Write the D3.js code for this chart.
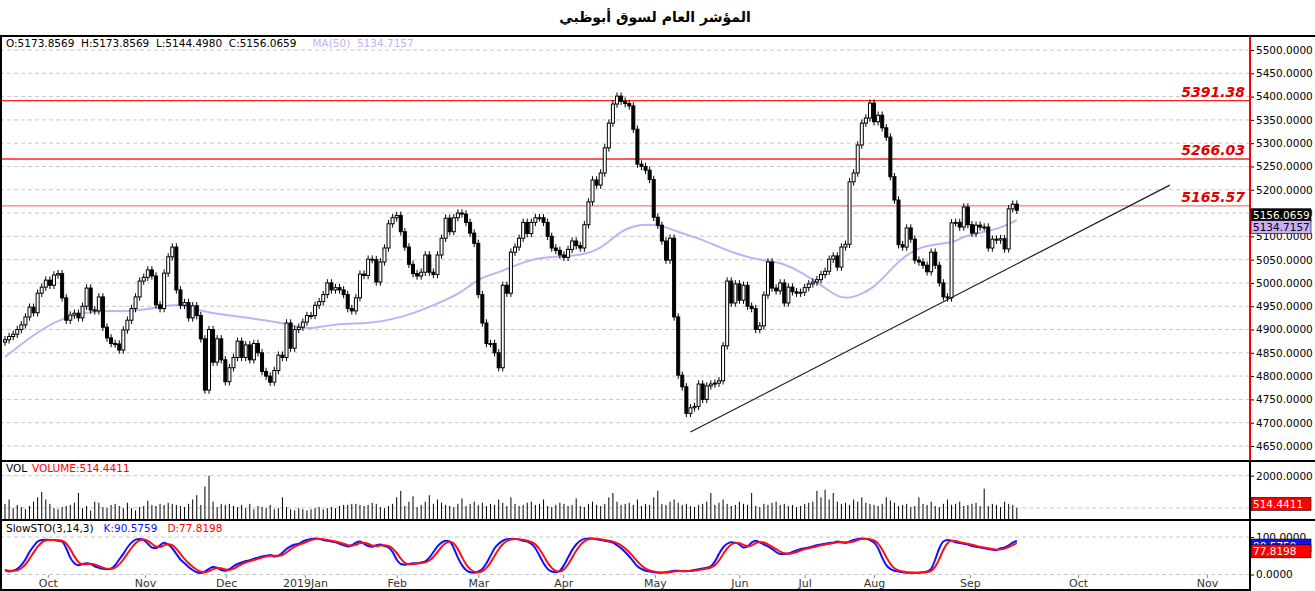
<!DOCTYPE html>
<html><head><meta charset="utf-8">
<script src="https://cdn.jsdelivr.net/npm/d3@7"></script>
<style>
body{margin:0;background:#fff;}
text{font-family:Tahoma,"DejaVu Sans",sans-serif;}
</style></head>
<body><div id="chart"></div>
<script>
// Daily closes (one per candle)
const closes = [4878,4885,4890,4900,4910,4927,4948,4936,4978,4991,5006,4995,5017,5020,4968,4920,4931,4935,4925,4950,
4989,4942,4940,4970,4905,4882,4870,4869,4856,4899,4920,4945,4970,5004,5012,5028,5015,4953,4945,5021,
5056,5077,4985,4952,4958,4925,4951,4930,4880,4770,4900,4830,4880,4835,4788,4818,4840,4875,4840,4867,
4835,4870,4850,4810,4800,4787,4812,4845,4840,4914,4860,4900,
4905,4916,4930,4930,4952,4960,4975,5000,4985,4990,4985,4975,4945,4940,4968,5019,5016,5051,5050,5002,
5045,5075,5127,5140,5145,5110,5077,5040,5020,5015,5023,5060,5023,5018,5060,5096,5139,5110,5140,5150,
5148,5130,5107,5085,4975,4914,4870,4870,4850,4818,4995,4978,5066,5077,5096,5130,5106,5130,5140,5140,
5130,5100,5075,5070,5060,5055,5072,5090,5080,5075,5125,5174,
5221,5210,5236,5290,5343,5384,5401,5390,5385,5380,5330,5255,5250,5242,5222,5141,5124,5090,5049,5096,
4927,4802,4777,4720,4732,4735,4783,4750,4779,4783,4785,4790,4865,5004,4957,4998,4963,4995,4950,4945,
4900,4908,4974,5045,4989,4983,5000,4957,4991,4981,4978,4980,4990,4998,5002,5007,5018,5025,5051,
5058,5034,5077,5083,5217,5236,5296,5343,5354,5386,5346,5360,5333,5313,5228,5178,5082,5077,5118,5094,
5049,5045,5038,5024,5066,5038,5000,4970,4968,5129,5130,5120,5163,5125,5107,5124,5120,5120,5075,5094,
5092,5095,5073,5159,5169,5156];

const volumes = [700,900,500,650,550,450,600,800,1000,1250,900,700,500,450,550,600,650,750,1200,500,
600,400,800,750,550,500,650,700,600,500,750,500,400,550,600,850,650,600,700,650,
750,700,650,600,550,700,900,1100,650,1500,2000,800,550,700,650,700,600,550,650,500,
700,450,600,550,500,650,450,500,1000,550,450,400,500,450,400,450,500,550,450,500,
550,500,600,650,650,700,700,650,600,650,750,700,550,500,600,700,1000,1300,600,800,
1050,550,650,800,1100,700,900,750,650,600,550,700,950,600,700,800,650,750,600,700,
650,900,750,600,1000,700,600,650,750,800,650,700,900,600,550,650,750,700,600,650,
950,600,550,700,800,650,600,700,1000,1200,800,650,700,750,650,900,600,700,650,1000,
1300,700,650,800,900,750,650,700,600,550,650,700,800,1200,650,750,900,700,600,650,
800,700,650,1200,600,550,700,650,750,800,650,700,600,650,550,600,700,750,800,1300,
1000,1350,900,1200,800,700,750,650,900,800,1000,750,700,650,600,700,1000,850,750,600,
650,700,550,600,1000,700,650,800,600,550,700,900,650,700,800,600,650,700,750,600,
1400,600,700,650,550,800,700,650,514.44];

const stochK = [12,8,10,15,25,40,60,75,88,92,93,92,92,90,88,70,45,30,25,28,
30,28,22,18,15,14,16,25,40,55,72,85,93,95,92,82,72,70,78,85,
80,70,55,40,30,20,12,6,4,8,15,20,18,12,10,14,22,28,32,36,
38,42,45,48,50,52,48,50,58,68,75,80,82,88,92,95,96,95,92,90,
88,86,82,78,75,78,85,88,82,76,74,78,80,76,72,60,40,28,26,28,
30,30,32,35,45,60,75,85,90,88,70,45,25,12,6,5,8,15,30,50,
70,82,90,94,95,95,93,90,88,82,70,50,30,15,8,6,10,25,45,65,
80,90,95,96,96,94,92,90,88,85,78,70,60,48,35,22,15,10,8,6,
5,5,6,8,10,10,9,9,10,12,14,16,18,22,35,55,72,82,86,85,
80,72,75,85,90,86,80,75,68,60,55,55,56,60,64,68,70,72,75,78,
80,82,84,85,88,86,84,88,92,95,96,95,92,85,70,45,25,15,10,8,
6,5,5,5,5,6,8,15,40,70,88,92,90,86,84,82,80,76,74,72,
70,68,66,65,70,72,78,85,90.58];

// MA(50) read at sample candles: [index, value]
const maPoints = [[0,4841],[9,4903],[16,4931],[23,4942],[31,4938],[38,4948],[43,4957],[48,4938],[58,4927],[67,4916],
[72,4905],[75,4901],[82,4914],[89,4912],[97,4925],[104,4948],[112,4978],[116,5011],[121,5021],[129,5054],
[136,5056],[141,5060],[146,5071],[151,5114],[156,5127],[161,5124],[165,5109],[170,5096],[175,5077],[180,5060],
[185,5049],[190,5045],[195,5024],[200,4996],[205,4963],[209,4972],[213,4989],[217,5028],[220,5054],[224,5077],
[229,5084],[233,5088],[235,5101],[240,5109],[244,5118],[248,5134.7157]];

const levels = [5391.38, 5266.03, 5165.57];
const levelColors = ["#ff2020", "#ff2020", "#f47c7c"];
const trendline = [[168,4680],[285.5,5210]];
const monthLabels = ["Oct","Nov","Dec","2019Jan","Feb","Mar","Apr","May","Jun","Jul","Aug","Sep","Oct","Nov"];
const monthIndex = [10.5,34.3,54.2,73.5,96,116,136.8,159.3,180,196,213,236.5,263,294.6];
const priceTicks = d3.range(4650, 5501, 50);

const W = 1315, H = 591, plotRight = 1250;
const svg = d3.select("#chart").append("svg").attr("width", W).attr("height", H);

const x = d3.scaleLinear().domain([0, 305]).range([5, 5 + 305 * 4.08]);
const y = d3.scaleLinear().domain([4650, 5500]).range([446, 50]);
const yv = d3.scaleLinear().domain([0, 2400]).range([519, 467]);
const ys = d3.scaleLinear().domain([0, 100]).range([574.5, 537]);

// Title
svg.append("text").attr("x", 655).attr("y", 22).attr("text-anchor", "middle")
   .attr("font-size", 14).attr("font-weight", "bold").attr("direction", "rtl")
   .text("المؤشر العام لسوق أبوظبي");

// Grid
const grid = (vals, sc) => svg.append("g").selectAll("line").data(vals).join("line")
   .attr("x1", 0).attr("x2", plotRight).attr("y1", d => sc(d)).attr("y2", d => sc(d))
   .attr("stroke", "#c8c8c8").attr("stroke-dasharray", "4,3");
grid(priceTicks, y);
grid([2000, 514.44], yv);
grid([100, 0], ys);

// Right axes
function rightAxis(sc, ticks) {
  const g = svg.append("g").attr("transform", `translate(${plotRight},0)`)
    .call(d3.axisRight(sc).tickValues(ticks).tickFormat(d3.format(".4f")).tickSize(4).tickPadding(2).tickSizeOuter(0));
  g.select(".domain").remove();
  g.selectAll("text").attr("font-size", 10.5).attr("font-family", "Tahoma,'DejaVu Sans',sans-serif");
}
rightAxis(y, priceTicks);
rightAxis(yv, [2000]);
rightAxis(ys, [100, 0]);

// Horizontal levels
levels.forEach((lv, i) => {
  svg.append("line").attr("x1", 0).attr("x2", plotRight).attr("y1", y(lv)).attr("y2", y(lv))
     .attr("stroke", levelColors[i]).attr("stroke-width", 1.3);
  svg.append("text").attr("x", 1245).attr("y", y(lv) - 4).attr("text-anchor", "end")
     .attr("fill", "#e00000").attr("font-size", 14).attr("font-weight", "bold")
     .attr("font-style", "italic").attr("font-family", "'Liberation Serif',serif").text(lv.toFixed(2));
});

// MA line
svg.append("path").datum(maPoints)
   .attr("d", d3.line().x(d => x(d[0])).y(d => y(d[1])).curve(d3.curveBasis))
   .attr("fill", "none").attr("stroke", "#c7aef5").attr("stroke-width", 2);

// Candles
const candles = closes.map((c, i) => {
  const o = i === 0 ? c - 5 : closes[i - 1];
  return {i, o, c, h: Math.max(o, c) + 8, l: Math.min(o, c) - 8};
});
const cg = svg.append("g");
cg.selectAll("line").data(candles).join("line")
  .attr("x1", d => x(d.i)).attr("x2", d => x(d.i))
  .attr("y1", d => y(d.h)).attr("y2", d => y(d.l)).attr("stroke", "#000");
cg.selectAll("rect").data(candles).join("rect")
  .attr("x", d => x(d.i) - 1.5).attr("width", 3)
  .attr("y", d => y(Math.max(d.o, d.c)))
  .attr("height", d => Math.max(1, Math.abs(y(d.o) - y(d.c))))
  .attr("fill", d => d.c < d.o ? "#000" : "#fff").attr("stroke", "#000").attr("stroke-width", 1);

// Trendline
svg.append("path").datum(trendline)
   .attr("d", d3.line().x(d => x(d[0])).y(d => y(d[1])))
   .attr("stroke", "#1a1a3a").attr("stroke-width", 1.2);

// Volume bars
svg.append("g").selectAll("line").data(volumes).join("line")
   .attr("x1", (d, i) => x(i)).attr("x2", (d, i) => x(i))
   .attr("y1", yv(0)).attr("y2", d => yv(d)).attr("stroke", "#000").attr("stroke-width", 1);

// Stochastic
const stochD = stochK.map((k, i) => d3.mean(stochK.slice(Math.max(0, i - 2), i + 1)));
const sline = d3.line().x((d, i) => x(i)).y(d => ys(d)).curve(d3.curveMonotoneX);
svg.append("path").datum(stochK).attr("d", sline).attr("fill", "none").attr("stroke", "#1010ff").attr("stroke-width", 2);
svg.append("path").datum(stochD).attr("d", sline).attr("fill", "none").attr("stroke", "#ff1010").attr("stroke-width", 2);

// Date axis
const dg = svg.append("g").attr("transform", "translate(0,575)")
  .call(d3.axisBottom(x).tickValues(monthIndex).tickFormat((d, i) => monthLabels[i]).tickSize(3).tickPadding(1));
dg.select(".domain").remove();
dg.selectAll("line").attr("stroke", "#888");
dg.selectAll("text").attr("font-size", 11).attr("fill", "#333");

// Panel frames
const frame = (y0, y1) => svg.append("rect").attr("x", 1).attr("y", y0).attr("width", plotRight - 1)
   .attr("height", y1 - y0).attr("fill", "none").attr("stroke", "#000").attr("stroke-width", 2);
frame(36, 461); frame(461, 520); frame(520, 590);
svg.append("line").attr("x1", plotRight).attr("x2", plotRight).attr("y1", 36).attr("y2", 461)
   .attr("stroke", "#ff0000").attr("stroke-width", 2);
[36, 461, 520].forEach(yy => svg.append("line").attr("x1", plotRight).attr("x2", W)
   .attr("y1", yy).attr("y2", yy).attr("stroke", "#000").attr("stroke-width", 2));

// Headers
function header(yy, parts) {
  const t = svg.append("text").attr("x", 6).attr("y", yy).attr("font-size", 10.5).attr("xml:space", "preserve");
  parts.forEach(p => t.append("tspan").attr("fill", p[1]).attr("dx", p[2] || 0).text(p[0]));
}
const last = {o: 5173.8569, h: 5173.8569, l: 5144.4980, c: 5156.0659};
header(47, [[`O:${last.o.toFixed(4)}  H:${last.h.toFixed(4)}  L:${last.l.toFixed(4)}  C:${last.c.toFixed(4)}`, "#000"],
            ["MA(50)  " + maPoints[maPoints.length - 1][1].toFixed(4), "#c7aef5", 16]]);
header(472, [["VOL", "#000"], ["VOLUME:514.4411", "#ff0000", 6]]);
header(532, [["SlowSTO(3,14,3)", "#000"], ["K:90.5759", "#1010ff", 10], ["D:77.8198", "#ff0000", 10]]);

// Value tags on axis
function tag(yy, txt, bg, fg) {
  svg.append("rect").attr("x", plotRight + 1).attr("y", yy - 6.5).attr("width", 60).attr("height", 13)
     .attr("fill", bg).attr("stroke", "#000").attr("stroke-width", 0.6);
  svg.append("text").attr("x", plotRight + 3).attr("y", yy + 4).attr("font-size", 10.5).attr("fill", fg).text(txt);
}
tag(y(5156.0659) + 5, "5156.0659", "#000", "#fff");
tag(y(5134.7157) + 7, "5134.7157", "#c7aef5", "#000");
tag(yv(514.44) - 4, "514.4411", "#ff0000", "#fff");
tag(ys(90.58) + 5, "90.5759", "#1010ff", "#fff");
tag(ys(77.82) + 6, "77.8198", "#ff0000", "#fff");
</script></body></html>
